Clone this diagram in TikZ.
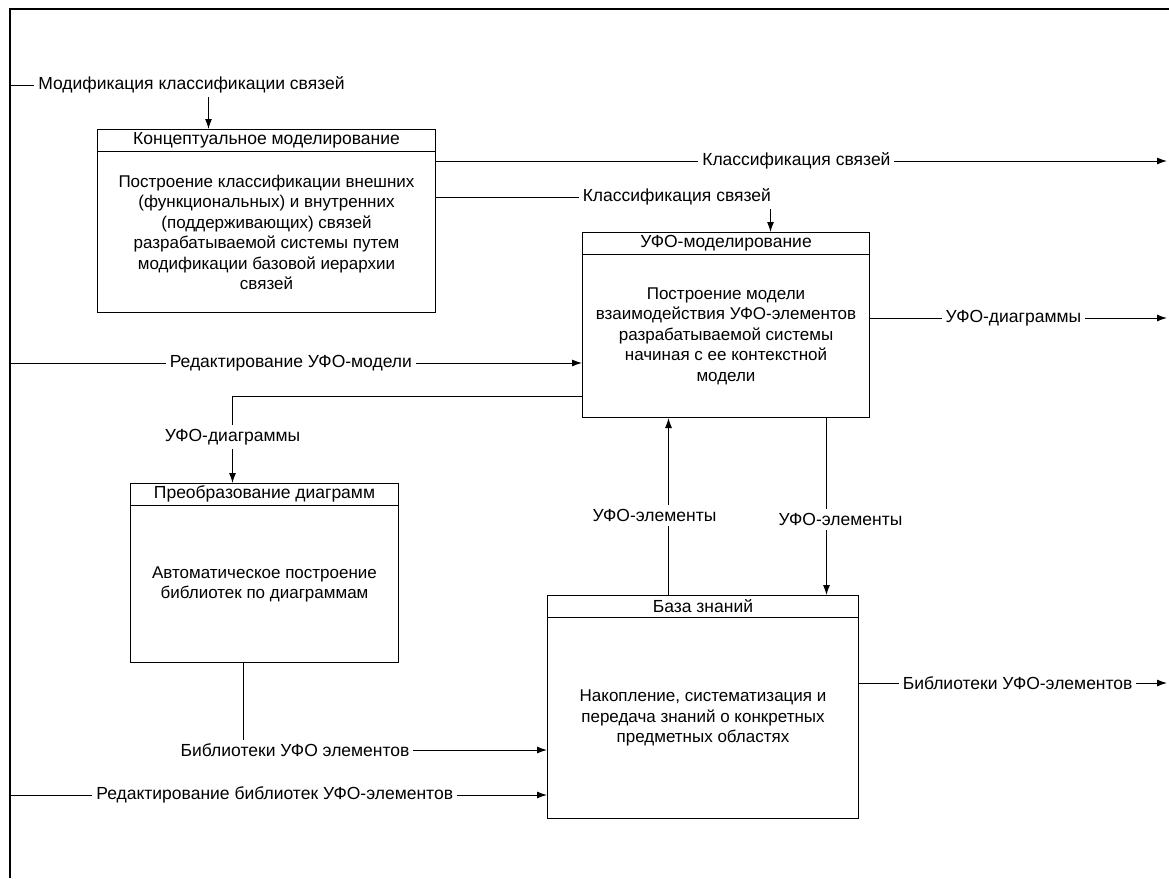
\documentclass[tikz,border=0pt]{standalone}
\usepackage{fontspec}
\setmainfont{Liberation Sans}
\usetikzlibrary{arrows.meta,calc}

\tikzset{
  func/.style={draw, line width=1pt, rectangle, anchor=north west, inner sep=0pt},
  head/.style={anchor=north, minimum height=22pt, inner sep=0pt, font=\fontsize{17.5}{21}\selectfont},
  body/.style={align=center, font=\fontsize{17}{20.5}\selectfont},
  lbl/.style={fill=white, inner sep=4pt, font=\fontsize{17.5}{21}\selectfont},
  arr/.style={line width=1pt, -{Latex[length=10pt,width=7pt]}}
}

\begin{document}
\begin{tikzpicture}[x=1pt, y=-1pt]
    \useasboundingbox (0,0) rectangle (1169,878);

    % Frame
    \draw[line width=1.6pt] (1169,9) -- (10,9) -- (10,878);
    \coordinate (modIn) at (10,85);
    \coordinate (editIn) at (10,363);
    \coordinate (libIn) at (10,795);
    \coordinate (clsOut) at (1167,161);
    \coordinate (ufoOut) at (1167,318);
    \coordinate (libOut) at (1167,683);

    % Conceptual modelling
    \node[func, minimum width=338pt, minimum height=183pt] (concept) at (97,129) {};
    \node[head] (conceptH) at (concept.north) {Концептуальное моделирование};
    \draw (conceptH.south -| concept.west) -- (conceptH.south -| concept.east);
    \node[body] (conceptB) at ($(conceptH.south)!0.5!(concept.south)$)
        {Построение классификации внешних\\(функциональных) и внутренних\\(поддерживающих) связей\\разрабатываемой системы путем\\модификации базовой иерархии\\связей};

    % UFO modelling
    \node[func, minimum width=287pt, minimum height=185pt] (ufo) at (582,232) {};
    \node[head] (ufoH) at (ufo.north) {УФО-моделирование};
    \draw (ufoH.south -| ufo.west) -- (ufoH.south -| ufo.east);
    \node[body] (ufoB) at ($(ufoH.south)!0.5!(ufo.south)$)
        {Построение модели\\взаимодействия УФО-элементов\\разрабатываемой системы\\начиная с ее контекстной\\модели};

    % Diagram conversion
    \node[func, minimum width=268pt, minimum height=179pt] (conv) at (130,483) {};
    \node[head] (convH) at (conv.north) {Преобразование диаграмм};
    \draw (convH.south -| conv.west) -- (convH.south -| conv.east);
    \node[body] (convB) at ($(convH.south)!0.5!(conv.south)$)
        {Автоматическое построение\\библиотек по диаграммам};

    % Knowledge base
    \node[func, minimum width=311pt, minimum height=223pt] (kb) at (547,595) {};
    \node[head] (kbH) at (kb.north) {База знаний};
    \draw (kbH.south -| kb.west) -- (kbH.south -| kb.east);
    \node[body] (kbB) at ($(kbH.south)!0.5!(kb.south)$)
        {Накопление, систематизация и\\передача знаний о конкретных\\предметных областях};

    % Arrows from the frame
    \draw[arr] (modIn) -| ([xshift=-58pt]concept.north)
        node[lbl, pos=0.457] (modL) {Модификация классификации связей};
    \draw[arr] (editIn) -- (ufo.west |- editIn)
        node[lbl, pos=0.491] (editL) {Редактирование УФО-модели};
    \draw[arr] (libIn) -- (kb.west |- libIn)
        node[lbl, pos=0.493] (libInL) {Редактирование библиотек УФО-элементов};

    % Arrows between boxes
    \draw[arr] (concept.east |- clsOut) -- (clsOut)
        node[lbl, pos=0.493] (cls1L) {Классификация связей};
    \draw[arr] (concept.east |- 0,197) -| ([xshift=44.5pt]ufo.north)
        node[lbl, pos=0.36] (cls2L) {Классификация связей};
    \draw[arr] (ufo.east |- ufoOut) -- (ufoOut)
        node[lbl, pos=0.483] (ufoOutL) {УФО-диаграммы};
    \draw[arr] (ufo.west |- 0,396) -| ([xshift=-32pt]conv.north)
        node[lbl, pos=0.736] (diagL) {УФО-диаграммы};

    \coordinate (upX) at ($(kb.north)+(-34.5,0)$);
    \coordinate (downX) at ($(ufo.south)+(100.5,0)$);
    \coordinate (libX) at ($(conv.south)+(-21,0)$);
    \draw[arr] (upX) -- (upX |- ufo.south)
        node[lbl, pos=0.449, xshift=-14pt] (elemUpL) {УФО-элементы};
    \draw[arr] (downX) -- (downX |- kb.north)
        node[lbl, pos=0.573, xshift=14pt] (elemDownL) {УФО-элементы};
    \draw[arr] (libX) |- (kb.west |- 0,750)
        node[lbl, pos=0.585] (libL) {Библиотеки УФО элементов};
    \draw[arr] (kb.east |- libOut) -- (libOut)
        node[lbl, pos=0.515] (libOutL) {Библиотеки УФО-элементов};
\end{tikzpicture}
\end{document}
